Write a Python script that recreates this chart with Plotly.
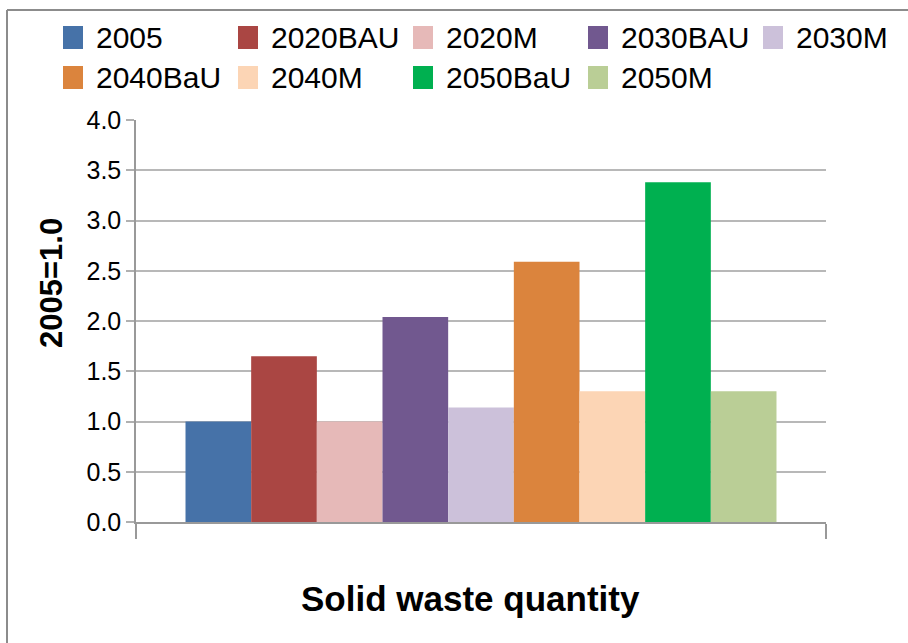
import plotly.graph_objects as go

# Series shown as grouped bars (index, 2005 = 1.0)
series = ["2005", "2020BAU", "2020M", "2030BAU", "2030M",
          "2040BaU", "2040M", "2050BaU", "2050M"]
values = [1.0, 1.65, 1.0, 2.04, 1.14, 2.59, 1.3, 3.38, 1.3]
colors = ["#4672A8", "#AA4643", "#E6B9B8", "#71588F", "#CCC1DA",
          "#DB843D", "#FCD5B5", "#00B050", "#BACE96"]
category = [""]
y_ticks = [0.0, 0.5, 1.0, 1.5, 2.0, 2.5, 3.0, 3.5, 4.0]

W, H = 908, 643
ML, MR, MT, MB = 136, 82, 120, 121
PW, PH = W - ML - MR, H - MT - MB


def px_x(px):
    return (px - ML) / PW


def px_y(py):
    return (H - MB - py) / PH


FONT = "Liberation Sans, Arial, sans-serif"

fig = go.Figure()
for name, val, col in zip(series, values, colors):
    fig.add_trace(go.Bar(x=category, y=[val], name=name,
                         marker=dict(color=col, line=dict(width=0)),
                         showlegend=False))

shapes = []
annotations = []

# Legend: 5 entries per row
for i, (name, col) in enumerate(zip(series, colors)):
    row, colno = divmod(i, 5)
    sx = 63 + 175 * colno
    sy = 26 + 40 * row
    shapes.append(dict(type="rect", xref="paper", yref="paper",
                       x0=px_x(sx), x1=px_x(sx + 20),
                       y0=px_y(sy + 23), y1=px_y(sy),
                       fillcolor=col, line=dict(width=0)))
    annotations.append(dict(text=name, xref="paper", yref="paper",
                            x=px_x(sx + 31), y=px_y(sy + 12),
                            xanchor="left", yanchor="middle",
                            showarrow=False,
                            font=dict(family=FONT, size=30, color="black")))

# Outer chart frame (top and left edges)
frame = "#8c8c8c"
shapes.append(dict(type="line", xref="paper", yref="paper",
                   x0=px_x(7), x1=px_x(W + 5), y0=px_y(10), y1=px_y(10),
                   line=dict(color=frame, width=2)))
shapes.append(dict(type="line", xref="paper", yref="paper",
                   x0=px_x(7), x1=px_x(7), y0=px_y(10), y1=px_y(H + 5),
                   line=dict(color=frame, width=2)))

# Axis titles
annotations.append(dict(text="<b>2005=1.0</b>", xref="paper", yref="paper",
                        x=px_x(51), y=px_y(283), textangle=-90,
                        xanchor="center", yanchor="middle", showarrow=False,
                        font=dict(family=FONT, size=31, color="black")))
annotations.append(dict(text="<b>Solid waste quantity</b>", xref="paper",
                        yref="paper", x=px_x(470), y=px_y(598),
                        xanchor="center", yanchor="middle", showarrow=False,
                        font=dict(family=FONT, size=35, color="black")))

fig.update_layout(
    width=W, height=H,
    margin=dict(l=ML, r=MR, t=MT, b=MB, pad=0),
    paper_bgcolor="white", plot_bgcolor="white",
    barmode="group", bargap=0.1435, bargroupgap=0,
    showlegend=False,
    shapes=shapes, annotations=annotations,
    xaxis=dict(type="category", showticklabels=False,
               showline=True, linecolor="#999999", linewidth=1.5,
               ticks="outside", tickson="boundaries", ticklen=15,
               tickcolor="#999999", tickwidth=1.5, showgrid=False),
    yaxis=dict(range=[0, 4], tickvals=y_ticks, tickformat=".1f",
               showline=True, linecolor="#999999", linewidth=1.5,
               ticks="outside", ticklen=8, tickcolor="#b0b0b0",
               tickwidth=1.5,
               showgrid=True, gridcolor="#b8b8b8", gridwidth=1.5,
               zeroline=False,
               tickfont=dict(family=FONT, size=25, color="black")),
)

fig.write_html("out.html")
